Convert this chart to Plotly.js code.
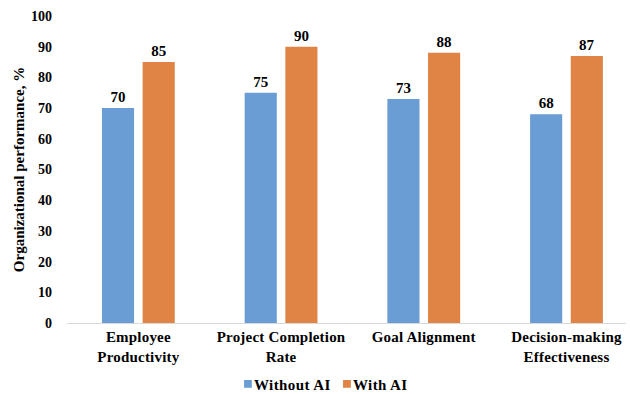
<!DOCTYPE html>
<html>
<head>
<meta charset="utf-8">
<script src="https://cdn.plot.ly/plotly-3.0.1.min.js"></script>
<style>
html,body{margin:0;padding:0;background:#fff;}
#chart{width:630px;height:394px;}
#chart .xtick text { letter-spacing: 0.2px; }
#chart .legendtext { letter-spacing: 0.4px; }
#chart .legend .legendpoints path { transform: translate(34px, 0px) scale(0.65) !important; }
</style>
</head>
<body>
<div id="chart"></div>
<script>
const categories = ["Employee<br>Productivity", "Project Completion<br>Rate", "Goal Alignment", "Decision-making<br>Effectiveness"];
const withoutAI = [70, 75, 73, 68];
const withAI = [85, 90, 88, 87];
const seriesNames = ["Without AI", "With AI"];
const yTicks = [0, 10, 20, 30, 40, 50, 60, 70, 80, 90, 100];

const fam = "'Liberation Serif', 'Times New Roman', serif";
const boldFont = {family: fam, size: 14, color: "#000", weight: "bold"};
const labelFont = {family: fam, size: 15, color: "#000", weight: "bold"};
const xFont = {family: fam, size: 15, color: "#000", weight: "bold"};
const legFont = {family: fam, size: 15, color: "#000", weight: "bold"};
const titleFont = {family: fam, size: 15, color: "#000", weight: "bold"};

const traces = [
  {type: "bar", name: seriesNames[0], x: categories, y: withoutAI,
   marker: {color: "#6A9DD3"}, text: withoutAI.map(String), textposition: "outside",
   textfont: labelFont, cliponaxis: false, hoverinfo: "none"},
  {type: "bar", name: seriesNames[1], x: categories, y: withAI,
   marker: {color: "#E08445"}, text: withAI.map(String), textposition: "outside",
   textfont: labelFont, cliponaxis: false, hoverinfo: "none"}
];

const layout = {
  width: 630, height: 394,
  margin: {l: 67, r: 4, t: 16, b: 71},
  paper_bgcolor: "#fff", plot_bgcolor: "#fff",
  font: boldFont,
  barmode: "group",
  bargap: 0.43,
  bargroupgap: 0.21,
  showlegend: true,
  legend: {orientation: "h", x: 0.44, xanchor: "center", xref: "paper",
           yref: "container", y: 0.025, yanchor: "middle",
           font: legFont, itemwidth: 30, tracegroupgap: 0,
           entrywidth: 54, entrywidthmode: "pixels"},
  xaxis: {type: "category", range: [-0.5, 3.417], showline: true, linecolor: "#D9D9D9",
          linewidth: 1, showgrid: false, zeroline: false, ticks: "", tickfont: xFont,
          automargin: false},
  yaxis: {range: [0, 100], tickvals: yTicks, ticktext: yTicks.map(String), showgrid: false,
          zeroline: false, showline: false, ticks: "", tickfont: boldFont,
          ticklabelstandoff: 14, automargin: false,
          title: {text: "Organizational performance, %", font: titleFont, standoff: 2}}
};

Plotly.newPlot("chart", traces, layout, {displayModeBar: false, staticPlot: true});
</script>
</body>
</html>
